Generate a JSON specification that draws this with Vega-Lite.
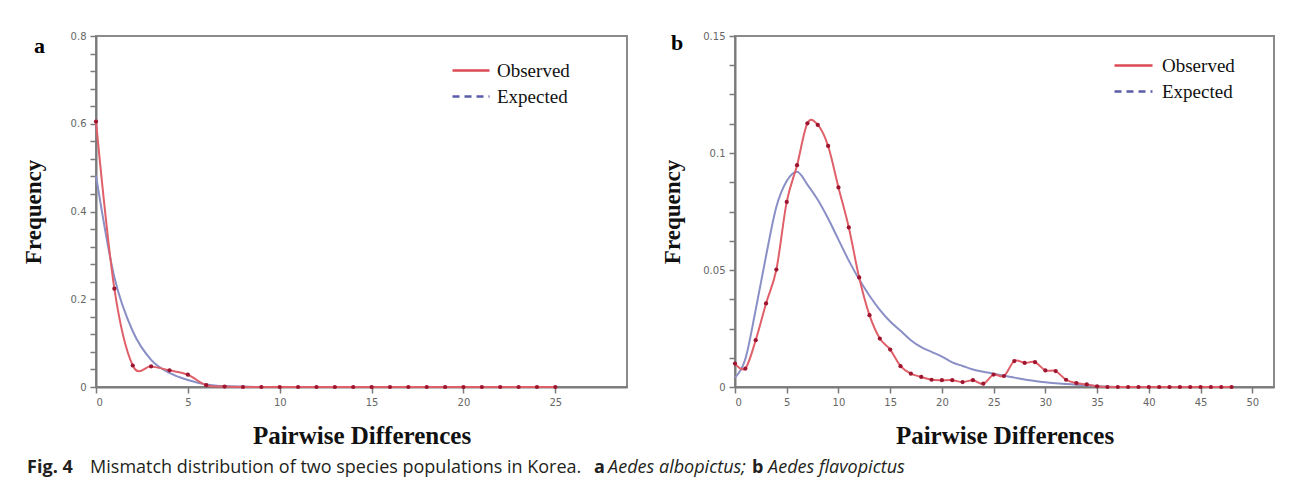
{
  "$schema": "https://vega.github.io/schema/vega-lite/v6.json",
  "background": "white",
  "padding": {"left": 21, "top": 30, "right": 5, "bottom": 5},
  "datasets": {
    "a": [
      {"d": 0, "type": "Observed", "f": 0.605}, {"d": 1, "type": "Observed", "f": 0.224}, {"d": 2, "type": "Observed", "f": 0.049},
      {"d": 3, "type": "Observed", "f": 0.047}, {"d": 4, "type": "Observed", "f": 0.038}, {"d": 5, "type": "Observed", "f": 0.028},
      {"d": 6, "type": "Observed", "f": 0.004}, {"d": 7, "type": "Observed", "f": 0.001}, {"d": 8, "type": "Observed", "f": 0},
      {"d": 9, "type": "Observed", "f": 0}, {"d": 10, "type": "Observed", "f": 0}, {"d": 11, "type": "Observed", "f": 0},
      {"d": 12, "type": "Observed", "f": 0}, {"d": 13, "type": "Observed", "f": 0}, {"d": 14, "type": "Observed", "f": 0},
      {"d": 15, "type": "Observed", "f": 0}, {"d": 16, "type": "Observed", "f": 0}, {"d": 17, "type": "Observed", "f": 0},
      {"d": 18, "type": "Observed", "f": 0}, {"d": 19, "type": "Observed", "f": 0}, {"d": 20, "type": "Observed", "f": 0},
      {"d": 21, "type": "Observed", "f": 0}, {"d": 22, "type": "Observed", "f": 0}, {"d": 23, "type": "Observed", "f": 0},
      {"d": 24, "type": "Observed", "f": 0}, {"d": 25, "type": "Observed", "f": 0},
      {"d": 0, "type": "Expected", "f": 0.482}, {"d": 1, "type": "Expected", "f": 0.25}, {"d": 2, "type": "Expected", "f": 0.127},
      {"d": 3, "type": "Expected", "f": 0.062}, {"d": 4, "type": "Expected", "f": 0.032}, {"d": 5, "type": "Expected", "f": 0.016},
      {"d": 6, "type": "Expected", "f": 0.006}, {"d": 7, "type": "Expected", "f": 0.002}, {"d": 8, "type": "Expected", "f": 0.001},
      {"d": 9, "type": "Expected", "f": 0}, {"d": 10, "type": "Expected", "f": 0}, {"d": 11, "type": "Expected", "f": 0},
      {"d": 12, "type": "Expected", "f": 0}, {"d": 13, "type": "Expected", "f": 0}, {"d": 14, "type": "Expected", "f": 0},
      {"d": 15, "type": "Expected", "f": 0}, {"d": 16, "type": "Expected", "f": 0}, {"d": 17, "type": "Expected", "f": 0},
      {"d": 18, "type": "Expected", "f": 0}, {"d": 19, "type": "Expected", "f": 0}, {"d": 20, "type": "Expected", "f": 0},
      {"d": 21, "type": "Expected", "f": 0}, {"d": 22, "type": "Expected", "f": 0}, {"d": 23, "type": "Expected", "f": 0},
      {"d": 24, "type": "Expected", "f": 0}, {"d": 25, "type": "Expected", "f": 0}
    ],
    "b": [
      {"d": 0, "type": "Observed", "f": 0.0100}, {"d": 1, "type": "Observed", "f": 0.0079}, {"d": 2, "type": "Observed", "f": 0.0200},
      {"d": 3, "type": "Observed", "f": 0.0357}, {"d": 4, "type": "Observed", "f": 0.0502}, {"d": 5, "type": "Observed", "f": 0.0791},
      {"d": 6, "type": "Observed", "f": 0.0948}, {"d": 7, "type": "Observed", "f": 0.1127}, {"d": 8, "type": "Observed", "f": 0.1120},
      {"d": 9, "type": "Observed", "f": 0.1030}, {"d": 10, "type": "Observed", "f": 0.0853}, {"d": 11, "type": "Observed", "f": 0.0682},
      {"d": 12, "type": "Observed", "f": 0.0468}, {"d": 13, "type": "Observed", "f": 0.0307}, {"d": 14, "type": "Observed", "f": 0.0207},
      {"d": 15, "type": "Observed", "f": 0.0160}, {"d": 16, "type": "Observed", "f": 0.0089}, {"d": 17, "type": "Observed", "f": 0.0057},
      {"d": 18, "type": "Observed", "f": 0.0043}, {"d": 19, "type": "Observed", "f": 0.0031}, {"d": 20, "type": "Observed", "f": 0.0029},
      {"d": 21, "type": "Observed", "f": 0.0029}, {"d": 22, "type": "Observed", "f": 0.0021}, {"d": 23, "type": "Observed", "f": 0.0029},
      {"d": 24, "type": "Observed", "f": 0.0014}, {"d": 25, "type": "Observed", "f": 0.0053}, {"d": 26, "type": "Observed", "f": 0.0047},
      {"d": 27, "type": "Observed", "f": 0.0111}, {"d": 28, "type": "Observed", "f": 0.0103}, {"d": 29, "type": "Observed", "f": 0.0106},
      {"d": 30, "type": "Observed", "f": 0.0071}, {"d": 31, "type": "Observed", "f": 0.0068}, {"d": 32, "type": "Observed", "f": 0.0031},
      {"d": 33, "type": "Observed", "f": 0.0017}, {"d": 34, "type": "Observed", "f": 0.0011}, {"d": 35, "type": "Observed", "f": 0.0003},
      {"d": 36, "type": "Observed", "f": 0}, {"d": 37, "type": "Observed", "f": 0}, {"d": 38, "type": "Observed", "f": 0},
      {"d": 39, "type": "Observed", "f": 0}, {"d": 40, "type": "Observed", "f": 0}, {"d": 41, "type": "Observed", "f": 0},
      {"d": 42, "type": "Observed", "f": 0}, {"d": 43, "type": "Observed", "f": 0}, {"d": 44, "type": "Observed", "f": 0},
      {"d": 45, "type": "Observed", "f": 0}, {"d": 46, "type": "Observed", "f": 0}, {"d": 47, "type": "Observed", "f": 0},
      {"d": 48, "type": "Observed", "f": 0},
      {"d": 0, "type": "Expected", "f": 0.004}, {"d": 1, "type": "Expected", "f": 0.012}, {"d": 2, "type": "Expected", "f": 0.033},
      {"d": 3, "type": "Expected", "f": 0.056}, {"d": 4, "type": "Expected", "f": 0.077}, {"d": 5, "type": "Expected", "f": 0.088},
      {"d": 6, "type": "Expected", "f": 0.092}, {"d": 7, "type": "Expected", "f": 0.0865}, {"d": 8, "type": "Expected", "f": 0.080},
      {"d": 9, "type": "Expected", "f": 0.072}, {"d": 10, "type": "Expected", "f": 0.063}, {"d": 11, "type": "Expected", "f": 0.054},
      {"d": 12, "type": "Expected", "f": 0.046}, {"d": 13, "type": "Expected", "f": 0.039}, {"d": 14, "type": "Expected", "f": 0.033},
      {"d": 15, "type": "Expected", "f": 0.028}, {"d": 16, "type": "Expected", "f": 0.024}, {"d": 17, "type": "Expected", "f": 0.020},
      {"d": 18, "type": "Expected", "f": 0.017}, {"d": 19, "type": "Expected", "f": 0.015}, {"d": 20, "type": "Expected", "f": 0.013},
      {"d": 21, "type": "Expected", "f": 0.0105}, {"d": 22, "type": "Expected", "f": 0.009}, {"d": 23, "type": "Expected", "f": 0.0075},
      {"d": 24, "type": "Expected", "f": 0.0065}, {"d": 25, "type": "Expected", "f": 0.0057}, {"d": 26, "type": "Expected", "f": 0.0048},
      {"d": 27, "type": "Expected", "f": 0.004}, {"d": 28, "type": "Expected", "f": 0.0032}, {"d": 29, "type": "Expected", "f": 0.0026},
      {"d": 30, "type": "Expected", "f": 0.002}, {"d": 31, "type": "Expected", "f": 0.0016}, {"d": 32, "type": "Expected", "f": 0.0013},
      {"d": 33, "type": "Expected", "f": 0.001}, {"d": 34, "type": "Expected", "f": 0.0007}, {"d": 35, "type": "Expected", "f": 0.0004},
      {"d": 36, "type": "Expected", "f": 0.0002}, {"d": 37, "type": "Expected", "f": 0}, {"d": 38, "type": "Expected", "f": 0},
      {"d": 39, "type": "Expected", "f": 0}, {"d": 40, "type": "Expected", "f": 0}, {"d": 41, "type": "Expected", "f": 0},
      {"d": 42, "type": "Expected", "f": 0}, {"d": 43, "type": "Expected", "f": 0}, {"d": 44, "type": "Expected", "f": 0},
      {"d": 45, "type": "Expected", "f": 0}, {"d": 46, "type": "Expected", "f": 0}, {"d": 47, "type": "Expected", "f": 0},
      {"d": 48, "type": "Expected", "f": 0}
    ]
  },
  "title": {"text": "Aedes flavopictus", "orient": "bottom", "anchor": "start", "frame": "bounds", "dx": 747, "offset": -18,
            "font": "Open Sans", "fontSize": 18, "fontStyle": "italic", "fontWeight": "normal", "color": "#231f20"},
  "vconcat": [{
    "title": {"text": "b", "orient": "bottom", "anchor": "start", "frame": "bounds", "dx": 731, "offset": -18,
              "font": "Open Sans", "fontSize": 18, "fontWeight": "bold", "color": "#231f20"},
    "vconcat": [{
      "title": {"text": "Aedes albopictus;", "orient": "bottom", "anchor": "start", "frame": "bounds", "dx": 587, "offset": -18,
                "font": "Open Sans", "fontSize": 18, "fontStyle": "italic", "fontWeight": "normal", "color": "#231f20"},
      "vconcat": [{
        "title": {"text": "a", "orient": "bottom", "anchor": "start", "frame": "bounds", "dx": 573, "offset": -18,
                  "font": "Open Sans", "fontSize": 18, "fontWeight": "bold", "color": "#231f20"},
        "vconcat": [{
          "title": {"text": "Mismatch distribution of two species populations in Korea.", "orient": "bottom", "anchor": "start", "frame": "bounds", "dx": 69, "offset": -18,
                    "font": "Open Sans", "fontSize": 18, "fontWeight": "normal", "color": "#231f20"},
          "vconcat": [{
            "title": {"text": "Fig. 4", "orient": "bottom", "anchor": "start", "frame": "bounds", "dx": 6, "offset": 10,
                      "font": "Open Sans", "fontSize": 18, "fontWeight": "bold", "color": "#231f20"},
            "resolve": {"scale": {"color": "independent", "strokeDash": "independent"}, "legend": {"color": "independent", "strokeDash": "independent"}},
            "spacing": 32,
            "hconcat": [
              {
                "width": 531, "height": 351,
                "data": {"name": "a"},
                "title": {"text": "a", "anchor": "start", "frame": "group", "orient": "top", "baseline": "alphabetic", "offset": -44, "dx": -62,
                          "font": "Liberation Serif", "fontSize": 22, "fontWeight": "bold", "color": "#000"},
                "encoding": {
                  "x": {"field": "d", "type": "quantitative", "scale": {"domain": [0, 28.9], "nice": false},
                        "axis": {"values": [0, 5, 10, 15, 20, 25], "title": "Pairwise Differences"}},
                  "y": {"field": "f", "type": "quantitative", "scale": {"domain": [0, 0.8], "nice": false},
                        "axis": {"values": [0, 0.04, 0.08, 0.12, 0.16, 0.2, 0.24, 0.28, 0.32, 0.36, 0.4, 0.44, 0.48, 0.52, 0.56, 0.6, 0.64, 0.68, 0.72, 0.76, 0.8],
                                 "labelExpr": "indexof([0, 0.2, 0.4, 0.6, 0.8], datum.value) >= 0 ? format(datum.value, '~g') : ''",
                                 "title": "Frequency", "titlePadding": 25}}
                },
                "layer": [
                  {
                    "transform": [{"filter": "datum.type === 'Expected'"}],
                    "mark": {"type": "line", "interpolate": "monotone", "strokeWidth": 2, "color": "#8a8fc6"}
                  },
                  {
                    "transform": [{"filter": "datum.type === 'Observed'"}],
                    "mark": {"type": "line", "interpolate": "cardinal", "strokeWidth": 2, "color": "#e0606a"}
                  },
                  {
                    "transform": [{"filter": "datum.type === 'Observed'"}],
                    "mark": {"type": "point", "filled": true, "size": 18, "color": "#9e1530", "opacity": 1}
                  },
                  {
                    "mark": {"type": "line", "opacity": 0},
                    "encoding": {
                      "color": {"field": "type", "type": "nominal", "scale": {"domain": ["Observed", "Expected"], "range": ["#dc4a55", "#5a5ca8"]},
                                "legend": {"orient": "none", "legendX": 355, "legendY": 22, "title": null, "symbolType": "stroke", "symbolSize": 1369,
                                           "symbolStrokeWidth": 2.5, "symbolOpacity": 1, "labelFont": "Liberation Serif", "labelFontSize": 19, "labelColor": "#111",
                                           "labelOffset": 6, "rowPadding": 1, "clipHeight": 25}},
                      "strokeDash": {"field": "type", "type": "nominal", "scale": {"domain": ["Observed", "Expected"], "range": [[1, 0], [7, 5]]},
                                "legend": {"orient": "none", "legendX": 355, "legendY": 22, "title": null, "symbolType": "stroke", "symbolSize": 1369,
                                           "symbolStrokeWidth": 2.5, "symbolOpacity": 1, "labelFont": "Liberation Serif", "labelFontSize": 19, "labelColor": "#111",
                                           "labelOffset": 6, "rowPadding": 1, "clipHeight": 25}}
                    }
                  }
                ]
              },
              {
                "width": 539, "height": 351,
                "data": {"name": "b"},
                "title": {"text": "b", "anchor": "start", "frame": "group", "orient": "top", "baseline": "alphabetic", "offset": -41, "dx": -64,
                          "font": "Liberation Serif", "fontSize": 22, "fontWeight": "bold", "color": "#000"},
                "encoding": {
                  "x": {"field": "d", "type": "quantitative", "scale": {"domain": [0, 52.1], "nice": false},
                        "axis": {"values": [0, 5, 10, 15, 20, 25, 30, 35, 40, 45, 50], "title": "Pairwise Differences"}},
                  "y": {"field": "f", "type": "quantitative", "scale": {"domain": [0, 0.15], "nice": false},
                        "axis": {"values": [0, 0.0125, 0.025, 0.0375, 0.05, 0.0625, 0.075, 0.0875, 0.1, 0.1125, 0.125, 0.1375, 0.15],
                                 "labelExpr": "indexof([0, 0.05, 0.1, 0.15], datum.value) >= 0 ? format(datum.value, '~g') : ''",
                                 "title": "Frequency", "titlePadding": 18}}
                },
                "layer": [
                  {
                    "transform": [{"filter": "datum.type === 'Expected'"}],
                    "mark": {"type": "line", "interpolate": "monotone", "strokeWidth": 2, "color": "#8a8fc6"}
                  },
                  {
                    "transform": [{"filter": "datum.type === 'Observed'"}],
                    "mark": {"type": "line", "interpolate": "cardinal", "strokeWidth": 2, "color": "#e0606a"}
                  },
                  {
                    "transform": [{"filter": "datum.type === 'Observed'"}],
                    "mark": {"type": "point", "filled": true, "size": 18, "color": "#9e1530", "opacity": 1}
                  },
                  {
                    "mark": {"type": "line", "opacity": 0},
                    "encoding": {
                      "color": {"field": "type", "type": "nominal", "scale": {"domain": ["Observed", "Expected"], "range": ["#dc4a55", "#5a5ca8"]},
                                "legend": {"orient": "none", "legendX": 378, "legendY": 17, "title": null, "symbolType": "stroke", "symbolSize": 1444,
                                           "symbolStrokeWidth": 2.5, "symbolOpacity": 1, "labelFont": "Liberation Serif", "labelFontSize": 19, "labelColor": "#111",
                                           "labelOffset": 8, "rowPadding": 1, "clipHeight": 25}},
                      "strokeDash": {"field": "type", "type": "nominal", "scale": {"domain": ["Observed", "Expected"], "range": [[1, 0], [7, 5]]},
                                "legend": {"orient": "none", "legendX": 378, "legendY": 17, "title": null, "symbolType": "stroke", "symbolSize": 1444,
                                           "symbolStrokeWidth": 2.5, "symbolOpacity": 1, "labelFont": "Liberation Serif", "labelFontSize": 19, "labelColor": "#111",
                                           "labelOffset": 8, "rowPadding": 1, "clipHeight": 25}}
                    }
                  }
                ]
              }
            ]
          }]
        }]
      }]
    }]
  }],
  "config": {
    "view": {"stroke": "#8a8a8a", "strokeWidth": 2},
    "axis": {
      "grid": false, "domainColor": "#7a7a7a", "domainWidth": 2, "tickColor": "#7a7a7a", "tickWidth": 1.5, "tickSize": 6,
      "labelFont": "DejaVu Sans", "labelFontSize": 10, "labelColor": "#666", "labelPadding": 4,
      "titleFont": "Liberation Serif", "titleFontWeight": "bold", "titleColor": "#111"
    },
    "axisX": {"titleFontSize": 25, "titlePadding": 16},
    "axisY": {"titleFontSize": 23}
  }
}
